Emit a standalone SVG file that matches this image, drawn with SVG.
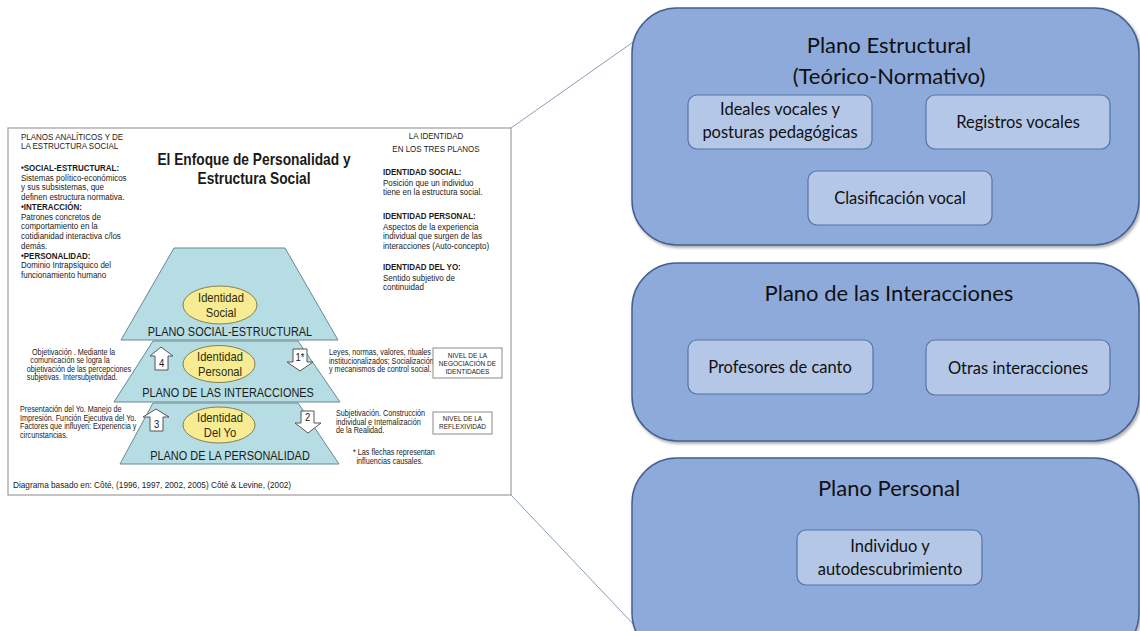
<svg xmlns="http://www.w3.org/2000/svg" width="1140" height="631" viewBox="0 0 1140 631">
<defs>
<style>
.f{font-family:"Liberation Sans",Arial,sans-serif;fill:#1a1a1a}
.b{font-weight:bold}
.lc{font-size:9.3px}
.an{font-size:8.4px}
.nv{font-size:7.6px}
.pl{font-size:13px}
.id{font-size:13px;fill:#2e2b0e}
.num{font-size:11px}
.trap{fill:#b7dde4;stroke:#66898f;stroke-width:1}
.ell{fill:#f7ec94;stroke:#86804f;stroke-width:1}
.arw{fill:#fff;stroke:#555;stroke-width:1}
.nbox{fill:#fff;stroke:#8a8a8a;stroke-width:1}
.outer{fill:#8eaadb;stroke:#43618f;stroke-width:1.5}
.inner{fill:#b4c7e7;stroke:#5573a6;stroke-width:1.2}
.t{font-family:Lato,"Open Sans",sans-serif;fill:#111}
.tt{font-size:22px}
.it{font-size:16.5px}
.con{stroke:#8b9dbb;stroke-width:1;fill:none}
</style>
<filter id="sh" x="-10%" y="-10%" width="130%" height="130%">
<feDropShadow dx="1.5" dy="2" stdDeviation="1.8" flood-color="#000" flood-opacity="0.35"/>
</filter>
</defs>
<rect width="1140" height="631" fill="#fff"/>

<g id="connectors">
<line class="con" x1="511" y1="128" x2="636" y2="40"/>
<line class="con" x1="511" y1="495" x2="636" y2="627"/>
</g>

<g id="slide">
<rect x="8" y="128" width="503" height="367" fill="#fff" stroke="#9d9d9d" stroke-width="1.2"/>

<text class="f lc" transform="translate(21,140) scale(.86,1)"><tspan x="0">PLANOS ANALÍTICOS  Y DE</tspan><tspan x="0" dy="9">LA ESTRUCTURA SOCIAL</tspan></text>
<text class="f lc" transform="translate(21,171) scale(.86,1)"><tspan x="0" class="b">•SOCIAL-ESTRUCTURAL:</tspan><tspan x="0" dy="9.75">Sistemas político-económicos</tspan><tspan x="0" dy="9.75">y sus subsistemas, que</tspan><tspan x="0" dy="9.75">definen estructura normativa.</tspan><tspan x="0" dy="9.75" class="b">•INTERACCIÓN:</tspan><tspan x="0" dy="9.75">Patrones concretos de</tspan><tspan x="0" dy="9.75">comportamiento en la</tspan><tspan x="0" dy="9.75">cotidianidad interactiva c/los</tspan><tspan x="0" dy="9.75">demás.</tspan><tspan x="0" dy="9.75" class="b">•PERSONALIDAD:</tspan><tspan x="0" dy="9.75">Dominio Intrapsíquico del</tspan><tspan x="0" dy="9.75">funcionamiento humano</tspan></text>

<text class="f b" font-size="16" text-anchor="middle" transform="translate(254,165) scale(.86,1)"><tspan x="0">El Enfoque de Personalidad y</tspan><tspan x="0" dy="19">Estructura Social</tspan></text>

<text class="f lc" text-anchor="middle" transform="translate(436,139) scale(.86,1)"><tspan x="0">LA IDENTIDAD</tspan><tspan x="0" dy="13">EN LOS TRES PLANOS</tspan></text>
<text class="f lc" transform="translate(383,175) scale(.86,1)"><tspan x="0" class="b">IDENTIDAD SOCIAL:</tspan><tspan x="0" dy="11">Posición que un individuo</tspan><tspan x="0" dy="9.5">tiene en la estructura social.</tspan></text>
<text class="f lc" transform="translate(383,219) scale(.86,1)"><tspan x="0" class="b">IDENTIDAD PERSONAL:</tspan><tspan x="0" dy="11">Aspectos de la experiencia</tspan><tspan x="0" dy="9.5">individual que surgen de las</tspan><tspan x="0" dy="9.5">interacciones (Auto-concepto)</tspan></text>
<text class="f lc" transform="translate(383,270) scale(.86,1)"><tspan x="0" class="b">IDENTIDAD DEL YO:</tspan><tspan x="0" dy="11">Sentido subjetivo de</tspan><tspan x="0" dy="9.5">continuidad</tspan></text>

<g id="plano-personalidad">
<polygon class="trap" points="153,403 298,403 339,464 120,464"/>
<text class="f pl" text-anchor="middle" transform="translate(230,460) scale(.84,1)">PLANO DE LA PERSONALIDAD</text>
</g>
<g id="plano-interacciones">
<polygon class="trap" points="153,341 298,341 340,402 114,402"/>
<text class="f pl" text-anchor="middle" transform="translate(228,397) scale(.84,1)">PLANO DE LAS INTERACCIONES</text>
</g>
<g id="plano-social">
<polygon class="trap" points="174,248 285,248 338,340 121,340"/>
<text class="f pl" text-anchor="middle" transform="translate(230,336) scale(.84,1)">PLANO SOCIAL-ESTRUCTURAL</text>
</g>

<g id="identidad-social">
<ellipse class="ell" cx="220" cy="305" rx="37" ry="19"/>
<text class="f id" text-anchor="middle" transform="translate(221,0) scale(.86,1)"><tspan x="0" y="302">Identidad</tspan><tspan x="0" y="317.5">Social</tspan></text>
</g>
<g id="identidad-personal">
<ellipse class="ell" cx="219" cy="364" rx="36" ry="18.5"/>
<text class="f id" text-anchor="middle" transform="translate(220,0) scale(.86,1)"><tspan x="0" y="361">Identidad</tspan><tspan x="0" y="376.5">Personal</tspan></text>
</g>
<g id="identidad-yo">
<ellipse class="ell" cx="219" cy="425" rx="36" ry="18"/>
<text class="f id" text-anchor="middle" transform="translate(220,0) scale(.86,1)"><tspan x="0" y="422">Identidad</tspan><tspan x="0" y="437.5">Del Yo</tspan></text>
</g>

<g id="flecha-4">
<path class="arw" d="M161,347 L173,356 L168,356 L168,370 L155,370 L155,356 L150,356 Z"/>
<text class="f num" text-anchor="middle" transform="translate(161.5,367) scale(.86,1)">4</text>
</g>
<g id="flecha-1">
<path class="arw" d="M293,349 L307,349 L307,362 L313,362 L300,371 L287,362 L293,362 Z"/>
<text class="f num" text-anchor="middle" transform="translate(300,361) scale(.86,1)">1*</text>
</g>
<g id="flecha-3">
<path class="arw" d="M156,409 L169,417 L163,417 L163,431 L150,431 L150,417 L143,417 Z"/>
<text class="f num" text-anchor="middle" transform="translate(156.5,428) scale(.86,1)">3</text>
</g>
<g id="flecha-2">
<path class="arw" d="M301,411 L314,411 L314,423 L321,423 L308,433 L295,423 L301,423 Z"/>
<text class="f num" text-anchor="middle" transform="translate(307.5,421) scale(.86,1)">2</text>
</g>

<text class="f an" transform="translate(32,355) scale(.86,1)"><tspan x="0">Objetivación . Mediante la</tspan><tspan x="-2" dy="8.5">comunicación se logra la</tspan><tspan x="-6" dy="8.5">objetivación de las percepciones</tspan><tspan x="-6" dy="8.5">subjetivas. Intersubjetividad.</tspan></text>
<text class="f an" transform="translate(20,412) scale(.86,1)"><tspan x="0">Presentación del Yo. Manejo de</tspan><tspan x="0" dy="8.7">Impresión. Función Ejecutiva del Yo.</tspan><tspan x="0" dy="8.7">Factores que influyen: Experiencia y</tspan><tspan x="0" dy="8.7">circunstancias.</tspan></text>
<text class="f an" transform="translate(329,355) scale(.86,1)"><tspan x="0">Leyes, normas, valores, rituales</tspan><tspan x="0" dy="8.7">institucionalizados;  Socialización</tspan><tspan x="0" dy="8.7">y mecanismos de control social.</tspan></text>
<text class="f an" transform="translate(336,416) scale(.86,1)"><tspan x="0">Subjetivación. Construcción</tspan><tspan x="0" dy="8.7">individual  e Internalización</tspan><tspan x="0" dy="8.7">de la Realidad.</tspan></text>
<text class="f an" transform="translate(353,455) scale(.86,1)"><tspan x="0">* Las flechas representan</tspan><tspan x="4" dy="8.7">influencias causales.</tspan></text>

<g id="nivel-negociacion">
<rect class="nbox" x="433" y="348" width="69" height="30"/>
<text class="f nv" text-anchor="middle" transform="translate(467.5,0) scale(.86,1)"><tspan x="0" y="358">NIVEL DE LA</tspan><tspan x="0" y="366">NEGOCIACIÓN DE</tspan><tspan x="0" y="374">IDENTIDADES</tspan></text>
</g>
<g id="nivel-reflexividad">
<rect class="nbox" x="433" y="412" width="59" height="22"/>
<text class="f nv" text-anchor="middle" transform="translate(462.5,0) scale(.86,1)"><tspan x="0" y="421.5">NIVEL DE LA</tspan><tspan x="0" y="429.5">REFLEXIVIDAD</tspan></text>
</g>

<text class="f" font-size="9.6" transform="translate(13,488) scale(.86,1)">Diagrama basado en: Côté, (1996, 1997, 2002, 2005) Côté &amp; Levine, (2002)</text>
</g>

<g id="plano-estructural">
<rect class="outer" x="632" y="8" width="507" height="237" rx="45" filter="url(#sh)"/>
<text class="t tt" text-anchor="middle"><tspan x="889" y="53">Plano Estructural</tspan><tspan x="889" y="84">(Teórico-Normativo)</tspan></text>
</g>
<g id="ideales-vocales">
<rect class="inner" x="688" y="95" width="184" height="54" rx="9"/>
<text class="t it" text-anchor="middle"><tspan x="780" y="115">Ideales vocales y</tspan><tspan x="780" y="138">posturas pedagógicas</tspan></text>
</g>
<g id="registros-vocales">
<rect class="inner" x="926" y="95" width="184" height="54" rx="9"/>
<text class="t it" text-anchor="middle" x="1018" y="128">Registros vocales</text>
</g>
<g id="clasificacion-vocal">
<rect class="inner" x="808" y="171" width="184" height="54" rx="9"/>
<text class="t it" text-anchor="middle" x="900" y="204">Clasificación vocal</text>
</g>

<g id="plano-interacciones-r">
<rect class="outer" x="632" y="263" width="507" height="178" rx="45" filter="url(#sh)"/>
<text class="t tt" text-anchor="middle" x="889" y="301">Plano de las Interacciones</text>
</g>
<g id="profesores-canto">
<rect class="inner" x="688" y="340" width="185" height="54" rx="9"/>
<text class="t it" text-anchor="middle" x="780" y="373">Profesores de canto</text>
</g>
<g id="otras-interacciones">
<rect class="inner" x="926" y="340" width="184" height="55" rx="9"/>
<text class="t it" text-anchor="middle" x="1018" y="374">Otras interacciones</text>
</g>

<g id="plano-personal">
<rect class="outer" x="632" y="458" width="507" height="200" rx="45" filter="url(#sh)"/>
<text class="t tt" text-anchor="middle" x="889" y="496">Plano Personal</text>
</g>
<g id="individuo">
<rect class="inner" x="797" y="530" width="185" height="55" rx="9"/>
<text class="t it" text-anchor="middle"><tspan x="890" y="552">Individuo y</tspan><tspan x="890" y="575">autodescubrimiento</tspan></text>
</g>
</svg>
